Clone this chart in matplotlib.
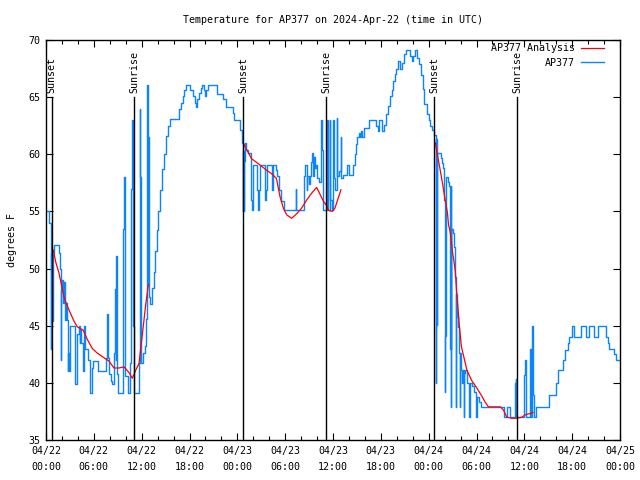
import numpy as np
import matplotlib
matplotlib.use("Agg")
import matplotlib.pyplot as plt
import matplotlib.dates as mdates
from datetime import datetime, timedelta

TITLE = "Temperature for AP377 on 2024-Apr-22 (time in UTC)"
START = datetime(2024, 4, 22, 0, 0)

# AP377 observations: hours after START, temperature (F)
obs_hours = [0.00,0.33,0.62,0.68,0.80,0.88,1.00,1.63,1.72,1.82,1.90,2.05,2.15,2.22,2.35,2.45,2.62,2.70,2.78,2.92,
             3.00,3.58,3.68,3.92,4.08,4.22,4.32,4.45,4.65,4.75,4.85,5.30,5.55,5.72,5.82,5.95,6.55,7.50,7.62,7.72,
             7.85,8.10,8.30,8.55,8.65,8.75,8.82,8.90,9.05,9.62,9.72,9.80,9.88,9.95,10.30,10.55,10.72,10.80,10.90,11.05,
             11.70,11.78,11.85,11.92,12.20,12.40,12.55,12.70,12.78,12.84,12.90,12.95,13.05,13.25,13.50,13.70,13.90,14.10,14.35,14.55,
             14.80,15.00,15.25,15.50,16.65,16.90,17.15,17.35,17.55,18.10,18.40,18.65,18.85,19.00,19.20,19.40,19.55,19.85,19.95,20.10,
             20.30,21.45,22.25,22.60,23.40,23.60,24.35,24.55,24.68,24.74,24.80,24.86,24.95,25.10,25.30,25.75,25.85,26.00,26.50,26.60,
             26.75,26.85,27.50,27.60,27.75,28.35,28.45,28.80,29.00,29.25,29.50,29.80,31.30,31.40,32.35,32.55,32.70,32.80,32.95,33.10,
             33.25,33.40,33.50,33.60,33.70,33.85,34.05,34.25,34.45,34.55,34.62,34.70,35.30,35.38,35.60,35.68,35.85,36.00,36.08,36.25,
             36.45,36.55,36.75,36.95,37.05,37.30,37.75,38.00,38.45,38.70,38.90,39.05,39.25,39.40,39.55,39.70,39.85,40.55,41.40,41.60,
             41.80,42.15,42.35,42.60,42.90,43.15,43.35,43.55,43.75,43.95,44.15,44.45,44.70,44.95,45.15,45.65,45.90,46.05,46.30,46.55,
             46.75,47.00,47.25,47.45,47.75,48.00,48.20,48.45,48.70,48.88,48.94,49.02,49.08,49.55,49.65,49.78,49.95,50.00,50.06,50.12,
             50.45,50.58,50.68,50.74,50.80,50.86,51.10,51.20,51.30,51.38,51.44,51.55,51.65,51.75,51.85,51.92,51.98,52.10,52.20,52.30,
             52.38,52.45,52.60,52.80,53.00,53.10,53.20,53.45,53.70,53.90,54.00,54.20,54.35,54.55,57.50,57.85,58.15,58.85,58.92,59.00,
             60.00,60.08,60.15,60.75,60.85,60.95,61.05,61.20,61.45,63.15,63.95,64.25,64.90,65.15,65.45,65.65,65.95,66.20,67.15,67.70,
             68.10,68.70,69.25,70.25,70.45,70.65,71.25,71.50,72.00]
obs_temps = [55.0,54.0,43.0,51.4,45.4,51.4,52.1,51.4,50.0,42.0,48.0,49.0,47.0,48.8,45.5,47.0,45.5,41.0,42.6,41.0,
             45.0,41.3,39.9,44.3,45.0,43.5,44.6,43.5,41.0,45.0,43.0,42.0,39.1,40.0,41.3,41.9,41.0,42.2,46.0,42.2,
             40.8,40.2,39.9,42.6,48.2,42.0,51.1,40.8,39.1,44.0,53.5,58.0,53.5,40.6,39.1,41.7,57.0,63.0,45.0,39.1,
             41.7,64.0,58.0,41.7,42.6,43.2,45.6,66.1,48.6,61.5,60.7,47.5,46.9,48.3,49.7,51.5,53.4,55.0,56.9,58.7,
             60.0,61.6,62.5,63.1,64.0,64.5,65.1,65.6,66.1,65.6,65.1,64.5,64.1,64.8,65.4,65.8,66.1,65.6,65.1,65.6,
             66.1,65.3,64.8,64.1,63.6,63.0,62.1,61.0,55.0,60.3,55.0,59.4,61.0,60.4,60.1,56.0,55.1,59.1,56.9,55.1,
             56.9,59.1,56.0,56.9,59.1,56.9,59.1,58.6,58.1,56.9,55.9,55.1,57.0,55.1,58.1,59.1,56.9,58.1,57.4,58.1,
             59.3,60.1,58.1,59.8,58.8,59.1,57.9,57.6,62.0,63.0,60.4,55.1,63.0,55.1,63.0,56.0,55.1,63.0,57.9,56.9,
             63.2,58.1,58.5,61.5,57.9,58.2,59.1,58.2,59.1,60.0,60.9,61.5,61.9,61.5,62.0,61.5,62.3,63.0,62.5,62.0,
             63.0,62.0,62.6,63.5,64.2,65.1,65.6,66.4,67.0,67.5,68.2,67.5,68.0,68.8,69.1,68.6,68.2,68.6,69.1,68.4,
             67.9,66.9,65.7,64.4,63.5,63.0,62.5,62.1,61.7,40.0,61.3,45.1,60.1,59.7,59.2,58.8,56.0,39.2,44.1,58.0,
             57.6,57.2,43.0,57.2,37.9,53.5,53.1,51.9,49.3,37.9,47.8,45.8,44.9,43.1,42.6,37.9,42.6,41.1,40.0,41.1,
             37.0,40.9,41.1,40.0,39.5,37.0,40.0,39.7,39.2,37.0,38.8,38.8,38.3,37.9,37.0,37.9,37.0,40.0,40.3,37.0,
             40.7,42.0,37.0,43.0,37.0,45.0,38.9,37.0,37.9,38.9,40.0,41.1,42.0,42.9,43.5,44.0,45.0,44.0,45.0,44.0,
             45.0,44.0,45.0,44.0,43.5,43.0,42.5,42.0,42.0]

# AP377 Analysis (nighttime segments, NaN = gap)
ana_hours = [0.75,0.92,1.21,1.63,2.26,2.68,3.51,3.93,4.68,5.18,5.81,6.44,7.27,7.90,8.53,9.16,9.78,10.41,10.83,11.25,11.67,11.96,12.21,12.50,12.84,
             np.nan,
             24.75,24.88,25.17,25.80,26.20,26.84,27.68,28.30,28.90,29.35,29.77,30.19,30.82,31.45,32.07,32.70,33.32,33.95,34.37,34.79,35.21,35.41,35.90,36.25,36.67,37.00,
             np.nan,
             48.85,49.10,49.35,49.50,49.75,50.05,50.35,50.50,50.70,51.00,51.20,51.35,51.50,51.65,51.85,52.10,52.50,52.80,53.40,54.00,54.70,55.10,55.50,57.00,57.40,57.80,58.40,59.00,59.70,60.10,60.60,61.10]
ana_temps = [51.8,51.6,50.6,49.6,47.5,46.7,45.4,44.9,44.6,43.8,43.0,42.6,42.2,41.9,41.3,41.3,41.4,40.9,40.4,41.1,41.7,43.5,45.0,46.8,48.6,
             np.nan,
             61.0,60.8,60.4,59.6,59.4,59.06,58.6,58.3,57.9,56.3,55.3,54.7,54.4,54.8,55.3,56.0,56.6,57.1,56.5,55.9,55.5,55.1,55.0,55.3,56.2,56.9,
             np.nan,
             61.0,59.9,59.0,58.4,57.4,56.1,54.9,53.8,53.2,51.4,50.5,49.7,48.0,46.8,45.0,43.2,42.0,41.1,40.2,39.6,38.8,38.3,37.9,37.9,37.6,37.0,36.9,36.9,37.0,37.2,37.3,37.4]

sun_hours = [0.71, 11.08, 24.75, 35.16, 48.71, 59.12]
sun_labels = ["Sunset", "Sunrise", "Sunset", "Sunrise", "Sunset", "Sunrise"]

FONT = "DejaVu Sans Mono"
plt.rcParams["font.family"] = FONT
plt.rcParams["font.size"] = 7.2

fig = plt.figure(figsize=(6.4, 4.8), dpi=100)
ax = fig.add_axes([46/640, 40/480, 574/640, 400/480])

def hnum(h):
    return mdates.date2num(START + timedelta(hours=float(h)))

ana_num = [hnum(h) if not np.isnan(h) else np.nan for h in ana_hours]
obs_num = [hnum(h) for h in obs_hours]

ax.plot(ana_num, ana_temps, color="#ff0000", lw=0.9, label="AP377 Analysis", zorder=3)
ax.plot(obs_num, obs_temps, color="#0a84ff", lw=1.0, drawstyle="steps-post", label="AP377", zorder=2)

for h, lab in zip(sun_hours, sun_labels):
    xn = hnum(h)
    ax.plot([xn, xn], [35, 65], color="black", lw=1.0, zorder=4)
    ax.text(xn, 65.35, lab, rotation=90, ha="center", va="bottom", fontsize=7.2, zorder=5)

ax.set_xlim(hnum(0), hnum(72))
ax.set_ylim(35, 70)
ax.set_yticks(range(35, 71, 5))
ax.xaxis.set_major_locator(mdates.HourLocator(byhour=range(0, 24, 6)))
ax.xaxis.set_minor_locator(mdates.HourLocator(byhour=range(0, 24, 2)))
ax.xaxis.set_major_formatter(mdates.DateFormatter("%m/%d\n%H:%M"))
ax.tick_params(which="major", direction="in", length=5, width=0.8, top=True, right=True, pad=4)
ax.tick_params(which="minor", direction="in", length=3, width=0.8, top=True, right=True)
for lbl in ax.get_xticklabels():
    lbl.set_linespacing(1.75)
for s in ax.spines.values():
    s.set_linewidth(1.0)

ax.set_ylabel("degrees F", labelpad=8)
fig.text(333/640, 1 - 20/480, TITLE, ha="center", va="center", fontsize=7.2)

leg = ax.legend(loc="upper right", frameon=False, markerfirst=False, handlelength=2.3,
                bbox_to_anchor=(604/640, 1 - 43/480), bbox_transform=fig.transFigure,
                borderaxespad=0.0, borderpad=0.0, handletextpad=0.6, labelspacing=0.45)

fig.savefig("out.png", dpi=100)
